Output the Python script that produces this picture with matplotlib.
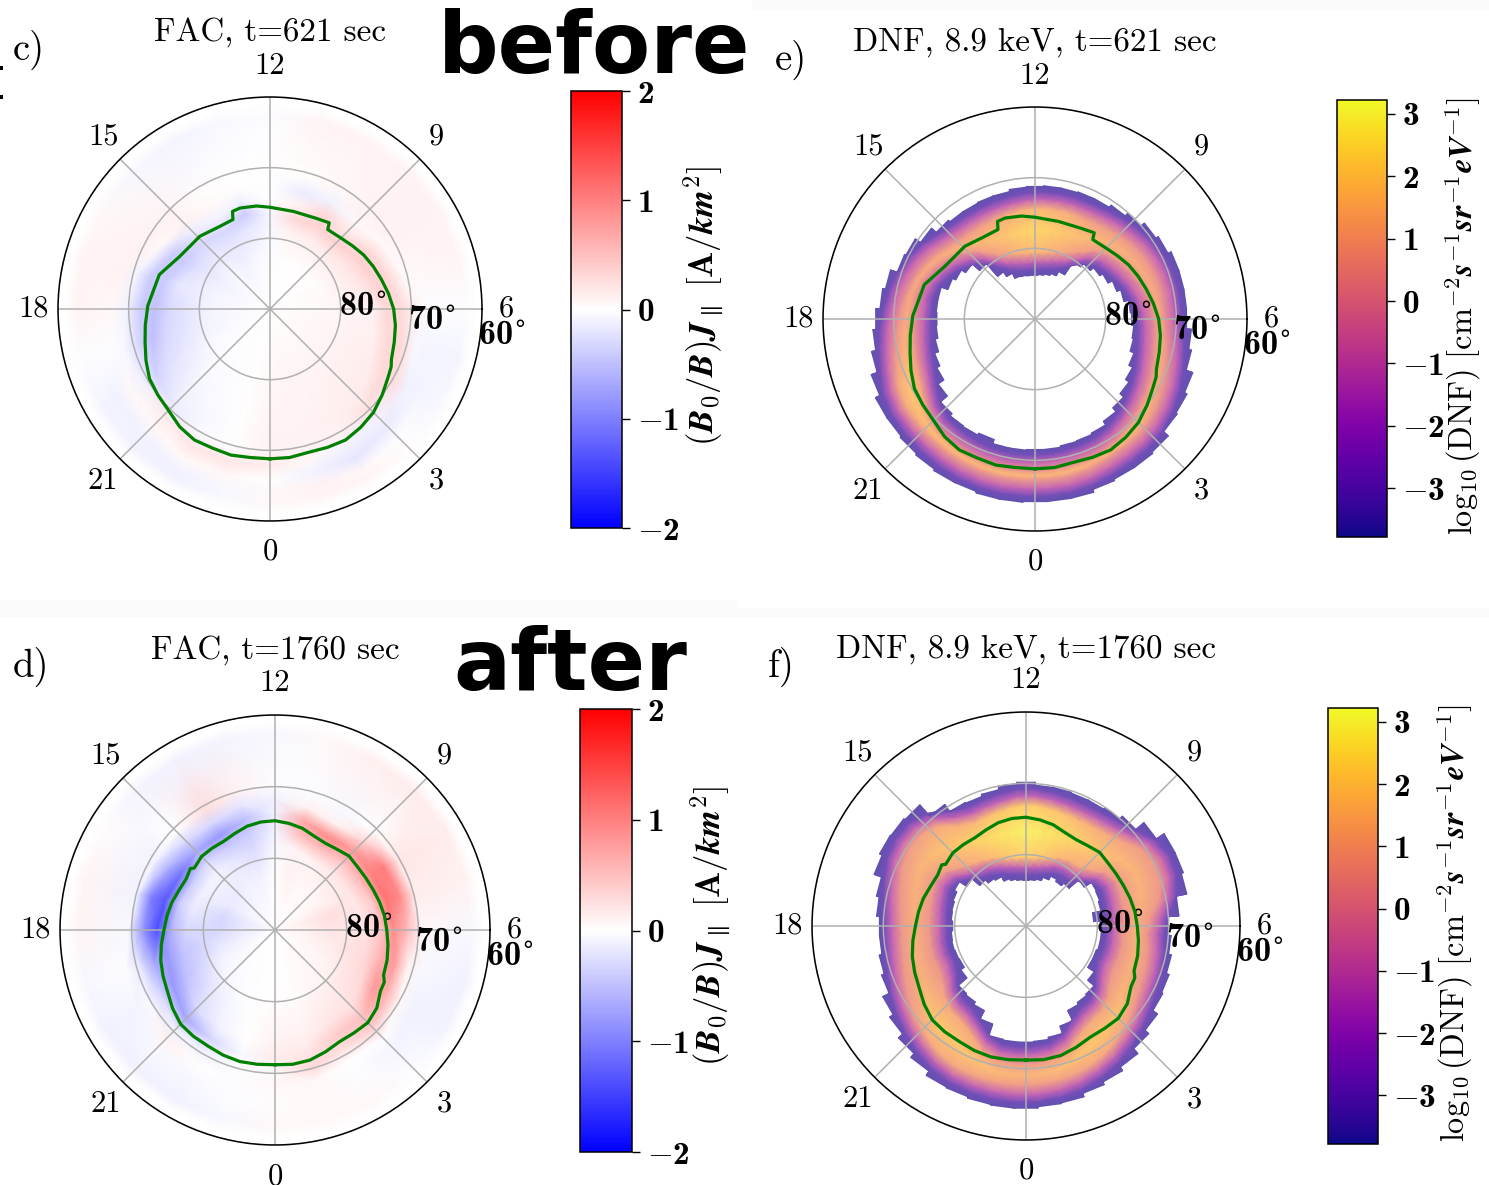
import matplotlib
matplotlib.use("Agg")
import matplotlib.pyplot as plt
import numpy as np
from matplotlib.cm import ScalarMappable
from matplotlib.colors import ListedColormap, Normalize
from matplotlib.patches import Rectangle

W, H = 1489, 1185

plt.rcParams["mathtext.fontset"] = "cm"
plt.rcParams["mathtext.bf"] = "cmb10"
plt.rcParams["font.family"] = "cmr10"
plt.rcParams["axes.unicode_minus"] = False

# magnetic local time of each column of the tables below
mlt = np.arange(24)

# open closed boundary, colatitude in degrees, hourly (used to lay out the FAC rows)
ocb_early = [21.2, 21.0, 21.4, 20.7, 19.3, 18.2, 17.5, 16.3, 15.3, 14.2, 14.5, 14.2,
             14.4, 14.9, 13.7, 14.3, 14.8, 16.5, 17.4, 18.3, 19.7, 20.3, 21.4, 21.4]
ocb_late = [18.8, 18.8, 18.0, 18.3, 17.0, 16.2, 15.6, 15.1, 14.6, 14.6, 14.0, 14.7,
            15.25, 15.0, 14.3, 14.5, 14.3, 14.9, 15.5, 16.5, 17.3, 18.6, 18.7, 19.0]

# the same boundary as drawn, with its small kinks
line_mlt_early = [0, .5, 1, 1.5, 2, 2.5, 3, 3.5, 4, 4.3, 4.5, 5, 5.5, 6, 6.5, 7, 7.5, 8, 8.5, 9, 9.3, 9.6, 9.7, 10.2,
                  11.1, 12, 12.5, 13.1, 13.4, 13.5, 14.16, 14.93, 15.47, 16, 16.85, 17.9, 18.5, 19, 19.5, 20, 20.5,
                  21, 21.5, 22, 22.5, 23, 23.5, 24]
line_colat_early = [21.2, 21.2, 21.0, 21.2, 21.4, 21.1, 20.7, 20.0, 19.3, 19.0, 18.6, 18.2, 17.9, 17.5, 16.9, 16.3,
                    15.8, 15.3, 14.7, 14.2, 14.0, 13.9, 14.8, 14.4, 14.2, 14.4, 14.7, 14.9, 14.8, 13.7, 13.7, 14.3,
                    14.4, 14.8, 16.4, 17.3, 17.8, 18.3, 19.0, 19.7, 20.0, 20.3, 21.0, 21.4, 21.3, 21.4, 21.2, 21.2]
line_mlt_late = [0, .5, 1, 1.5, 2, 2.5, 3, 3.5, 4, 4.3, 4.5, 5, 5.5, 6, 6.5, 7, 7.5, 8, 8.5, 9, 9.5, 10, 10.5, 11,
                 11.5, 12, 12.5, 13, 13.5, 14, 14.5, 15, 15.5, 15.6, 16, 16.5, 17, 17.5, 18, 18.5, 19, 19.5, 20,
                 20.5, 21, 21.5, 22, 22.5, 23, 23.5, 24]
line_colat_late = [18.8, 18.9, 18.8, 18.4, 18.0, 18.1, 18.3, 17.9, 17.0, 16.9, 16.4, 16.2, 15.9, 15.6, 15.4, 15.1,
                   14.8, 14.6, 14.5, 14.6, 14.2, 14.0, 14.2, 14.7, 15.0, 15.25, 15.2, 15.0, 14.6, 14.3, 14.4, 14.5,
                   14.2, 14.6, 14.3, 14.5, 14.9, 15.2, 15.5, 16.0, 16.5, 16.9, 17.3, 18.0, 18.6, 18.7, 18.7, 18.9,
                   19.0, 18.9, 18.8]

# FAC rows: cap, ocb-3, ocb-1, ocb+1, ocb+3, ocb+5, 27.5 deg
fac_early = [
    [.05, .08, .08, .08, .08, .08, .05, .05, .03, .03, 0, 0, -.03, -.05, -.1, -.05, -.1, -.08, -.08, -.08, -.05, -.03, -.02, 0],
    [.1, .1, .12, .15, .15, .12, .1, .2, .2, .15, .15, .1, -.05, -.2, -.2, -.2, -.25, -.2, -.3, -.3, -.25, -.1, -.05, 0],
    [.1, .1, .1, .25, .3, .3, .3, .35, .35, .35, .35, .3, -.05, -.4, -.3, -.3, -.4, -.4, -.5, -.5, -.35, -.15, -.05, 0],
    [.15, .05, -.1, -.1, .25, .3, .3, .3, .3, .2, .3, .1, 0, -.1, -.1, -.15, -.4, -.4, -.4, -.3, -.1, .15, .2, .2],
    [0, -.1, -.2, -.15, -.1, -.05, .1, .05, .05, .05, -.1, -.15, 0, 0, .05, .1, .05, -.1, -.1, -.05, .05, .05, .05, .05],
    [.05, .1, .05, -.03, -.08, -.08, -.03, .05, .1, .1, .05, .02, 0, 0, .03, .08, .1, .1, .05, -.02, -.1, -.1, -.1, -.05],
    [.05, .08, .08, .03, -.05, -.08, -.02, .08, .1, .1, .08, .08, -.03, -.05, -.08, -.05, .05, .08, .08, -.02, -.08, -.1, -.1, -.05],
]
fac_late = [
    [0, .02, .05, .08, .1, .15, .2, .25, .1, .05, .05, .1, 0, -.1, -.1, -.15, -.15, -.3, -.3, -.2, -.08, -.05, -.03, 0],
    [.1, .12, .2, .25, .3, .3, .2, .2, .2, .2, .1, .1, -.05, -.3, -.2, -.1, -.1, -.15, -.3, -.5, -.5, -.3, -.1, 0],
    [.15, .2, .4, .5, .8, .6, .4, .4, .5, .5, .5, .5, -.1, -.4, -.4, -.3, -.4, -.4, -.6, -.8, -.8, -.7, -.3, -.05],
    [.05, .3, .25, .4, .6, .8, .9, 1.1, 1.0, .8, .9, .7, -.1, -.5, -.8, -.7, -1.1, -1.3, -1.4, -.7, -.3, -.1, -.1, -.03],
    [.05, .05, 0, -.03, .05, .1, .5, .9, 1.0, .3, .1, .1, -.1, -.2, -.3, -.3, -.6, -1.0, -.8, -.2, -.05, .1, 0, -.03],
    [.03, .05, -.03, -.08, -.1, -.05, .05, .15, .2, 0, -.05, -.02, -.03, .1, .25, 0, -.1, -.1, -.05, -.03, -.08, -.05, -.05, -.03],
    [.05, .06, .05, -.02, -.1, -.1, -.05, .1, .15, .15, .12, .05, -.05, -.08, -.1, -.08, .03, .08, .08, -.05, -.1, -.1, -.1, -.05],
]

# DNF band: inner and outer colatitude per half hour block, log10 peak per hour
dnf_inner_early = [18.5, 18.5, 18.3, 18.2, 18.0, 17.4, 16.7, 16.0, 15.4, 14.8, 14.2, 14.0,
                   13.7, 13.5, 12.8, 12.2, 11.5, 11.0, 10.4, 9.8, 7.5, 6.8, 6.5, 6.3,
                   6.2, 6.2, 6.3, 6.4, 7.2, 8.0, 10.4, 11.8, 12.5, 13.0, 14.0, 14.0,
                   13.9, 14.0, 14.4, 15.0, 15.5, 16.5, 17.8, 18.2, 18.3, 18.0, 18.6, 18.6]
dnf_outer_early = [25.9, 25.9, 25.9, 25.5, 25.3, 25.3, 25.1, 24.2, 24.0, 23.6, 22.6, 22.2,
                   21.5, 21.5, 21.5, 21.5, 21.0, 20.6, 19.9, 19.4, 19.0, 19.0, 18.9, 18.9,
                   18.8, 18.7, 18.4, 18.4, 18.3, 18.3, 18.6, 19.5, 20.4, 20.6, 21.6, 22.0,
                   22.6, 23.0, 23.6, 24.5, 25.2, 25.2, 25.4, 25.6, 25.8, 25.8, 26.0, 26.0]
dnf_peak_early = [1.6, 1.5, 1.5, 1.5, 1.3, 1.2, 1.2, 1.2, 1.3, 1.5, 1.7, 2.1,
                  2.4, 2.1, 1.7, 1.5, 1.3, 1.2, 1.2, 1.5, 2.0, 1.8, 1.6, 1.6]
dnf_inner_late = [16.3, 16.2, 15.9, 14.8, 13.2, 12.9, 12.7, 11.5, 10.4, 10.4, 10.6, 10.6,
                  10.4, 9.5, 10.7, 10.9, 11.0, 9.8, 8.0, 7.5, 7.8, 7.2, 6.7, 6.5,
                  6.4, 6.5, 6.7, 7.0, 7.7, 8.0, 8.6, 10.0, 11.2, 10.8, 10.6, 10.5,
                  10.3, 10.5, 10.6, 10.5, 10.4, 11.0, 12.6, 12.8, 13.2, 14.5, 16.2, 16.3]
dnf_outer_late = [25.6, 25.4, 25.3, 24.8, 24.4, 23.8, 22.9, 22.2, 21.4, 21.2, 20.8, 20.4,
                  20.0, 21.5, 23.0, 23.3, 23.3, 22.0, 20.5, 20.0, 19.7, 19.7, 19.8, 19.8,
                  20.2, 20.0, 19.5, 19.2, 19.3, 20.5, 22.6, 22.8, 22.9, 22.5, 21.4, 21.0,
                  20.6, 20.6, 21.0, 21.4, 22.4, 23.0, 23.8, 24.5, 25.2, 25.3, 25.5, 25.6]
dnf_peak_late = [1.5, 1.7, 2.0, 1.8, 1.4, 1.4, 1.4, 1.4, 1.5, 1.9, 2.3, 2.7,
                 3.0, 2.7, 2.3, 1.9, 1.5, 1.4, 1.4, 1.4, 1.4, 2.0, 2.0, 1.7]
# distance from the band edge (deg) and the value there
dnf_edge_dist = [0, .8, 1.8, 3.2]
dnf_edge_vals = [-3.6, -3.2, -1.2]

hour_ticks = [0, 3, 6, 9, 12, 15, 18, 21]
colat_ticks = [10, 20, 30]
colat_labels = ["80", "70", "60"]
fac_ticks = [-2, -1, 0, 1, 2]
dnf_ticks = [-3, -2, -1, 0, 1, 2, 3]
dnf_range = (-3.78, 3.22)


def box(x0, y0, x1, y1):
    return [x0 / W, 1 - y1 / H, (x1 - x0) / W, (y1 - y0) / H]


def put(x, y, s, **kw):
    fig.text(x / W, 1 - y / H, s, **kw)


def closed(a):
    a = np.asarray(a, dtype=float)
    return np.concatenate([a, a[..., :1]], axis=-1)


def theta_of(hours):
    # noon on top, 6 on the right, always counted from 0 to 360
    return np.deg2rad(((np.asarray(hours, dtype=float) - 6) * 15) % 360)


def theta_line(hours):
    return np.deg2rad(np.asarray(hours, dtype=float) * 15.0 + 270)


def polar_panel(cx, cy, rad):
    ax = fig.add_axes(box(cx - rad, cy - rad, cx + rad, cy + rad), projection="polar")
    ax.set_xlim(0, 2 * np.pi)
    ax.set_ylim(0, 30)
    ax.set_autoscale_on(False)
    ax.set_xticks(theta_of(hour_ticks), [""] * len(hour_ticks))
    ax.set_yticks(colat_ticks, [r"$\mathbf{%s}^{\circ}$" % s for s in colat_labels])
    ax.set_rlabel_position(-11.5)
    ax.tick_params(axis="x", length=0)
    ax.tick_params(axis="y", pad=0, length=0, labelsize=24.5)
    for lab in ax.get_yticklabels():
        lab.set_math_fontfamily("custom")
        lab.set_zorder(6)
    # hour labels sit a little further out above and below than at the sides
    for h in hour_ticks:
        a = theta_of(h)
        ax.annotate(str(h), xy=(a, 0), xytext=(np.cos(a) * rad * 1.113, np.sin(a) * rad * 1.146),
                    textcoords="offset pixels", ha="center", va="center", fontsize=22, annotation_clip=False)
    ax.grid(color="#b0b0b0", lw=1.1)
    ax.spines["polar"].set_linewidth(1.1)
    return ax


def fac_panel(ax, table, ocb, line_mlt, line_colat):
    ocb = np.asarray(ocb, dtype=float)
    rows = [0.5 + 0 * ocb, 0.5 * ocb, ocb - 3, ocb - 1, ocb + 1, ocb + 3, ocb + 5, 27.5 + 0 * ocb, 29 + 0 * ocb]
    vals = np.vstack([np.zeros(24), np.array(table), np.zeros(24)])
    r = np.array([closed(x) for x in rows])
    c = np.array([closed(x) for x in vals])
    t = np.tile(theta_line(np.arange(25)), (r.shape[0], 1))
    ax.pcolormesh(t, r, c, cmap="bwr", vmin=-2, vmax=2, shading="gouraud")
    ax.plot(theta_line(line_mlt), line_colat, color="green", lw=2.3, zorder=4)


def dnf_panel(ax, inner, outer, peak, line_mlt, line_colat):
    # each half hour block keeps its own rim, so the rim comes out stepped
    hours = np.arange(48) / 2
    edges = np.column_stack([hours - 0.25, hours + 0.25]).ravel()
    inner_c = np.repeat(inner, 2)
    outer_c = np.repeat(outer, 2)
    hour_x = np.arange(-1, 26)
    inner_h = np.array(inner[::2])
    outer_h = np.array(outer[::2])
    inner_s = np.interp(edges, hour_x, np.r_[inner_h[-1], inner_h, inner_h[:2]])
    outer_s = np.interp(edges, hour_x, np.r_[outer_h[-1], outer_h, outer_h[:2]])
    peak_c = np.interp(edges, hour_x, np.r_[peak[-1], peak, peak[:2]])
    d = dnf_edge_dist
    v = dnf_edge_vals
    flat = np.ones_like(peak_c)
    rows = [inner_c, inner_s + d[1], inner_s + d[2], inner_s + d[3], 0.5 * (inner_s + outer_s),
            outer_s - d[3], outer_s - d[2], outer_s - d[1], outer_c]
    vals = [v[0] * flat, v[1] * flat, v[2] * flat, peak_c - 0.8, peak_c,
            peak_c - 0.8, v[2] * flat, v[1] * flat, v[0] * flat]
    t = np.tile(theta_line(edges), (len(rows), 1))
    ax.pcolormesh(t, np.array(rows), np.array(vals), cmap=washed, norm=dnf_norm, shading="gouraud")
    ax.plot(theta_line(line_mlt), line_colat, color="green", lw=2.3, zorder=4)


def colorbar(rect, cmap, norm, ticks, label, lx, ly, size):
    cax = fig.add_axes(box(*rect))
    cb = fig.colorbar(ScalarMappable(norm=norm, cmap=cmap), cax=cax)
    cb.set_ticks(ticks, labels=[r"$\mathbf{%d}$" % t for t in ticks])
    cb.ax.tick_params(length=6, width=1.0, pad=5, labelsize=24)
    for lab in cb.ax.get_yticklabels():
        lab.set_math_fontfamily("custom")
    cb.outline.set_linewidth(1.1)
    put(lx, ly, label, rotation=90, ha="center", va="center", fontsize=size)


fig = plt.figure(figsize=(W / 100, H / 100), dpi=100)

# faint strips and specks left over at the edges of the pasted panels
for x0, y0, x1, y1, col in [
    (752, 0, 1489, 10, "#fbfbfb"), (0, 600, 737, 617, "#fbfbfb"), (737, 608, 1489, 617, "#fbfbfb"),
    (0, 66, 3, 70, "black"), (0, 95, 3, 99, "black"),
]:
    fig.patches.append(Rectangle((x0 / W, 1 - y1 / H), (x1 - x0) / W, (y1 - y0) / H,
                                 transform=fig.transFigure, color=col, lw=0))

plasma = plt.get_cmap("plasma")(np.linspace(0, 1, 256))
plasma[:, :3] = 0.7 * plasma[:, :3] + 0.3
washed = ListedColormap(plasma)
dnf_norm = Normalize(*dnf_range)
fac_norm = Normalize(-2, 2)

fac_label = r"$\mathbf{(}\mathbfit{B}_{\mathbf{0}}\mathbf{/}\mathbfit{B}\mathbf{)}\mathbfit{J}_{\parallel}\ \mathbf{[A/}\mathbfit{km}^{\mathbf{2}}\mathbf{]}$"
dnf_label = r"$\log_{\mathbf{10}}(\mathrm{DNF})\ [\mathrm{cm}^{-\mathbf{2}}\mathbfit{s}^{-\mathbf{1}}\mathbfit{sr}^{-\mathbf{1}}\mathbfit{eV}^{-\mathbf{1}}]$"

ax = polar_panel(270, 309, 212)
fac_panel(ax, fac_early, ocb_early, line_mlt_early, line_colat_early)
ax = polar_panel(1035, 319, 212)
dnf_panel(ax, dnf_inner_early, dnf_outer_early, dnf_peak_early, line_mlt_early, line_colat_early)
ax = polar_panel(275, 930, 215)
fac_panel(ax, fac_late, ocb_late, line_mlt_late, line_colat_late)
ax = polar_panel(1026, 926, 214)
dnf_panel(ax, dnf_inner_late, dnf_outer_late, dnf_peak_late, line_mlt_late, line_colat_late)

colorbar((571, 91, 622, 528), "bwr", fac_norm, fac_ticks, fac_label, 703, 306, 25)
colorbar((1337, 100, 1387, 537), "plasma", dnf_norm, dnf_ticks, dnf_label, 1463, 316, 23.3)
colorbar((580, 709, 632, 1152), "bwr", fac_norm, fac_ticks, fac_label, 710, 926, 25)
colorbar((1328, 708, 1378, 1144), "plasma", dnf_norm, dnf_ticks, dnf_label, 1455, 923, 23.3)

for x, y, s in [(270, 41, "FAC, t=621 sec"), (1035, 51, "DNF, 8.9 keV, t=621 sec"),
                (275, 659, "FAC, t=1760 sec"), (1026, 658, "DNF, 8.9 keV, t=1760 sec")]:
    put(x, y, s, ha="center", va="baseline", fontsize=23.8)
for x, y, s in [(29, 60, "c)"), (791, 70, "e)"), (31, 677, "d)"), (781, 677, "f)")]:
    put(x, y, s, ha="center", va="baseline", fontsize=28)
for x, y, s in [(594, 73, "before"), (570, 690, "after")]:
    put(x, y, s, ha="center", va="baseline", fontsize=61, family="DejaVu Sans", fontweight="bold")

fig.savefig("out.png", dpi=100)
